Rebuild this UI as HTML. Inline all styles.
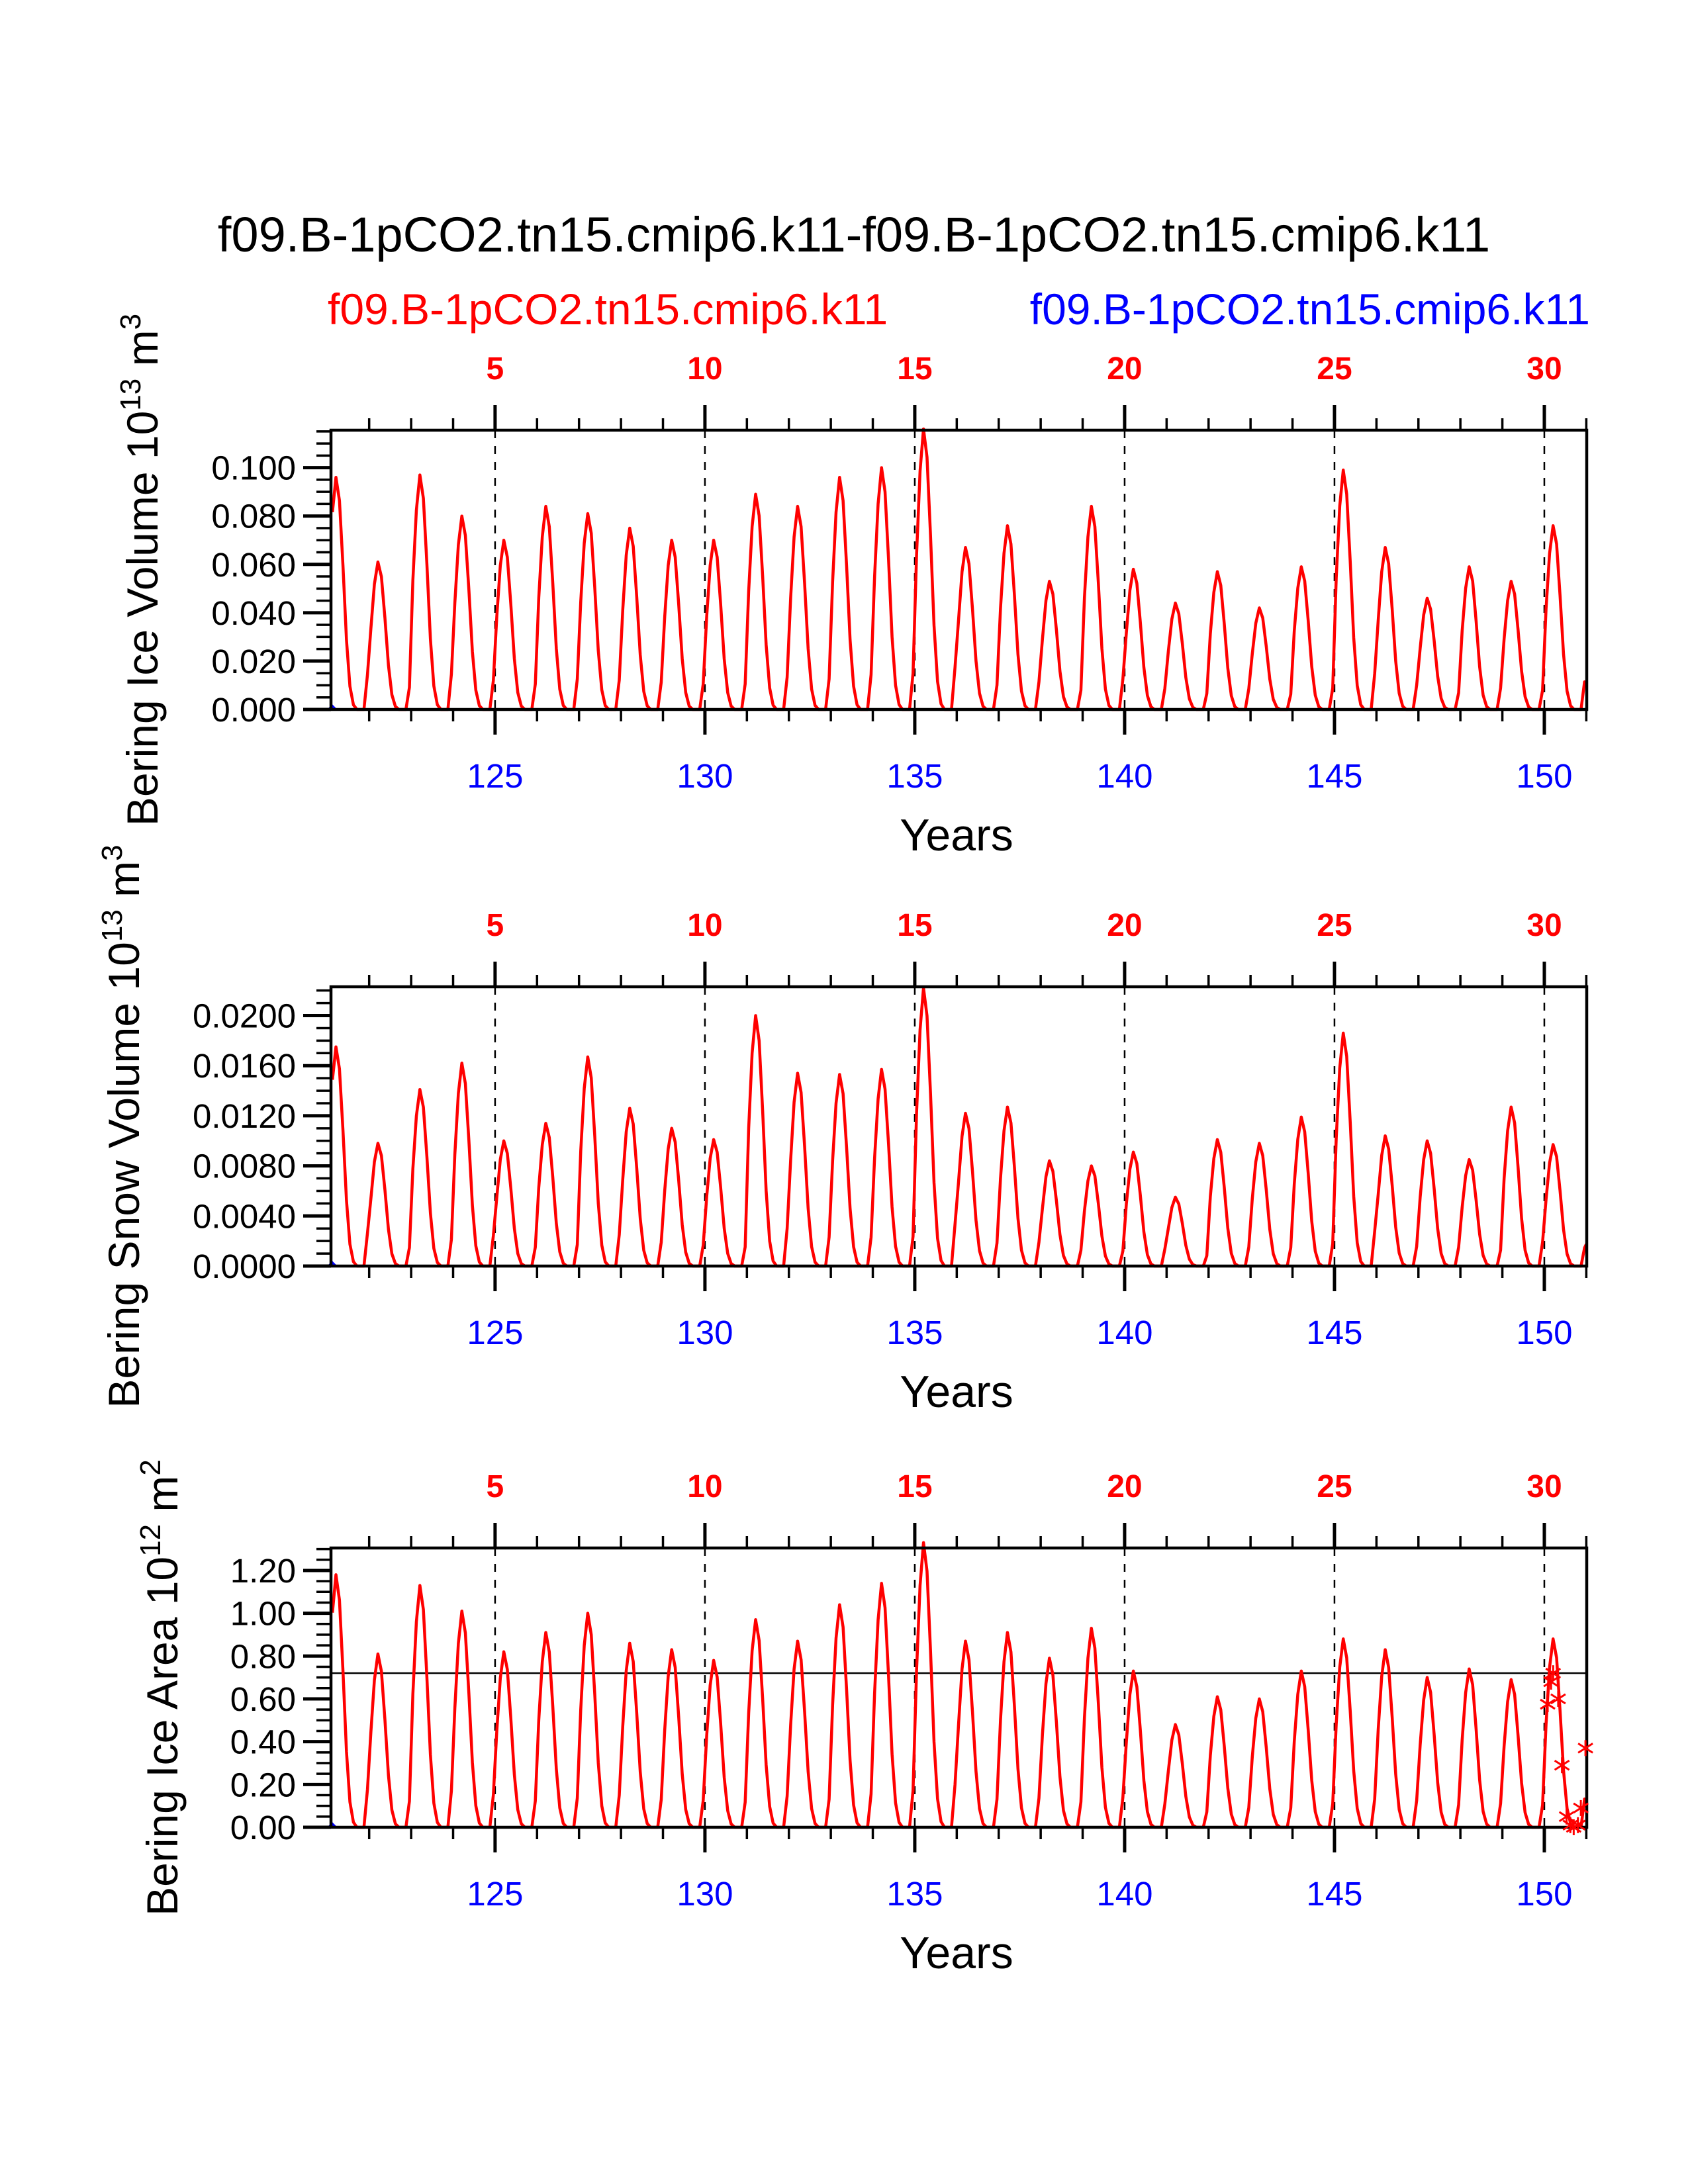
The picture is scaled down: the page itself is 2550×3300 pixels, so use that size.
<!DOCTYPE html>
<html><head><meta charset="utf-8"><style>html,body{margin:0;padding:0;background:#fff}svg{display:block}text{font-family:"Liberation Sans",Arial,sans-serif}</style></head>
<body>
<svg id="fig" width="2550" height="3300" viewBox="0 0 2550 3300" xmlns="http://www.w3.org/2000/svg">
<text x="1290" y="380" font-size="74" text-anchor="middle">f09.B-1pCO2.tn15.cmip6.k11-f09.B-1pCO2.tn15.cmip6.k11</text>
<text x="495" y="490" font-size="66" fill="#ff0000">f09.B-1pCO2.tn15.cmip6.k11</text>
<text x="2402" y="490" font-size="66" fill="#0000ff" text-anchor="end">f09.B-1pCO2.tn15.cmip6.k11</text>
</svg>
<script>
const years = [121,122,123,124,125,126,127,128,129,130,131,132,133,134,135,136,137,138,139,140,141,142,143,144,145,146,147,148,149,150];
const seasonShape = [0.55,0.85,1.0,0.9,0.62,0.3,0.1,0.02,0,0,0,0.15];
const icePeaks = [0.096,0.061,0.097,0.080,0.070,0.084,0.081,0.075,0.070,0.070,0.089,0.084,0.096,0.100,0.116,0.067,0.076,0.053,0.084,0.058,0.044,0.057,0.042,0.059,0.099,0.067,0.046,0.059,0.053,0.076];
const snowPeaks = [0.0175,0.0098,0.0141,0.0162,0.0100,0.0114,0.0167,0.0126,0.0110,0.0101,0.0200,0.0154,0.0153,0.0157,0.0222,0.0122,0.0127,0.0084,0.0080,0.0091,0.0055,0.0101,0.0098,0.0119,0.0186,0.0104,0.0100,0.0085,0.0127,0.0097];
const areaPeaks = [1.18,0.81,1.13,1.01,0.82,0.91,1.00,0.86,0.83,0.78,0.97,0.87,1.04,1.14,1.33,0.87,0.91,0.79,0.93,0.73,0.48,0.61,0.60,0.73,0.88,0.83,0.70,0.74,0.69,0.88];
const markerYears = [150.08,150.16,150.21,150.33,150.42,150.53,150.62,150.7,150.8,150.87,150.98];
const markerVals = [0.575,0.68,0.72,0.60,0.29,0.05,0.01,0.0,0.01,0.09,0.37];
const iceTicks = ["0.000","0.020","0.040","0.060","0.080","0.100"];
const snowTicks = ["0.0000","0.0040","0.0080","0.0120","0.0160","0.0200"];
const areaTicks = ["0.00","0.20","0.40","0.60","0.80","1.00","1.20"];
const bottomLabels = [125,130,135,140,145,150];
const topLabels = [5,10,15,20,25,30];
const refLineVal = 0.72;

const NS="http://www.w3.org/2000/svg";
const svg=document.getElementById('fig');
function mk(tag,attrs,parent){const e=document.createElementNS(NS,tag);for(const k in attrs)e.setAttribute(k,attrs[k]);(parent||svg).appendChild(e);return e;}
const X0=500,X1=2397,YR0=121.09,YR1=151.01;
function xs(yr){return X0+(yr-YR0)/(YR1-YR0)*(X1-X0);}
function monthly(peaks){const out=[];years.forEach((y,i)=>{seasonShape.forEach((s,m)=>{out.push([y+(m+0.5)/12,peaks[i]*s]);});});out.push([151.0,peaks[0]*0.1]);return out;}

function panel(name,top,ymax,tickLabels,tickStep,minorStep,peaks,title,titleX,withLine){
  const bot=top+422;
  const ys=v=>bot-v/ymax*(bot-top);
  const g=mk('g',{});
  
  
  bottomLabels.forEach(yr=>{const l=mk('line',{x1:xs(yr),x2:xs(yr),y1:top,y2:bot,stroke:'#000','stroke-width':2.5,'stroke-dasharray':'12,12'},g);});
  if(withLine){const l=mk('line',{x1:X0,x2:X1,y1:ys(refLineVal),y2:ys(refLineVal),stroke:'#000','stroke-width':2.5},g);}
  const bl=mk('polyline',{fill:'none',stroke:'#0000ff','stroke-width':4,points:[[xs(121.04),ys(0)],[xs(121.12),ys(ymax*0.012)],[xs(121.2),ys(0)],[xs(151),ys(0)]].map(p=>p.join(',')).join(' ')},g);
  
  const pts=monthly(peaks).filter(p=>p[0]>=YR0-0.01).map(p=>xs(p[0]).toFixed(1)+','+ys(p[1]).toFixed(1)).join(' ');
  const rl=mk('polyline',{fill:'none',stroke:'#ff0000','stroke-width':4.5,'stroke-linejoin':'round',points:pts},g);
  
  const fr=mk('rect',{x:X0,y:top,width:X1-X0,height:bot-top,fill:'none',stroke:'#000','stroke-width':4.5},g);
  
  for(let yr=122;yr<=151;yr++){const maj=yr%5===0;const len=maj?38:18;
    mk('line',{x1:xs(yr),x2:xs(yr),y1:top,y2:top-len,stroke:'#000','stroke-width':maj?5:3.5},g);
    mk('line',{x1:xs(yr),x2:xs(yr),y1:bot,y2:bot+len,stroke:'#000','stroke-width':maj?5:3.5},g);}
  for(let v=0;v<=ymax+1e-9;v+=minorStep){const maj=Math.abs(v/tickStep-Math.round(v/tickStep))<1e-6;
    mk('line',{x1:X0,x2:X0-(maj?42:22),y1:ys(v),y2:ys(v),stroke:'#000','stroke-width':maj?5:3.5},g);}
  tickLabels.forEach((t,i)=>{const e=mk('text',{x:447,y:ys(i*tickStep)+18,'font-size':51,'text-anchor':'end'},g);e.textContent=t;});
  topLabels.forEach((t,i)=>{const e=mk('text',{x:xs(bottomLabels[i]),y:top-77,'font-size':48,'font-weight':'bold',fill:'#ff0000','text-anchor':'middle'},g);e.textContent=t;});
  bottomLabels.forEach(t=>{const e=mk('text',{x:xs(t),y:bot+118,'font-size':51,fill:'#0000ff','text-anchor':'middle'},g);e.textContent=t;});
  const xt=mk('text',{x:1445,y:bot+213,'font-size':68,'text-anchor':'middle'},g);xt.textContent='Years';
  
  const yt=mk('text',{x:0,y:0,'font-size':66,'text-anchor':'middle',transform:`translate(${titleX},${(top+bot)/2}) rotate(-90)`},g);
  yt.innerHTML=title;
  
  return {g,ys};
}
panel('ice-volume-panel',650,0.1155,iceTicks,0.02,0.005,icePeaks,'Bering Ice Volume 10<tspan dy="-26" font-size="44">13</tspan><tspan dy="26"> m</tspan><tspan dy="-26" font-size="44">3</tspan>',238,false);
panel('snow-volume-panel',1491,0.0223,snowTicks,0.004,0.001,snowPeaks,'Bering Snow Volume 10<tspan dy="-26" font-size="44">13</tspan><tspan dy="26"> m</tspan><tspan dy="-26" font-size="44">3</tspan>',210,false);
const p3=panel('ice-area-panel',2339,1.305,areaTicks,0.2,0.05,areaPeaks,'Bering Ice Area 10<tspan dy="-26" font-size="44">12</tspan><tspan dy="26"> m</tspan><tspan dy="-26" font-size="44">2</tspan>',268,true);
markerYears.forEach((yr,i)=>{const x=xs(yr),y=p3.ys(markerVals[i]);const m=mk('g',{stroke:'#ff0000','stroke-width':3},p3.g);
  
  
  mk('line',{x1:x-11,x2:x+11,y1:y-7,y2:y+7},m);mk('line',{x1:x-11,x2:x+11,y1:y+7,y2:y-7},m);mk('line',{x1:x,x2:x,y1:y-12,y2:y+12},m);});
</script>
</body></html>
